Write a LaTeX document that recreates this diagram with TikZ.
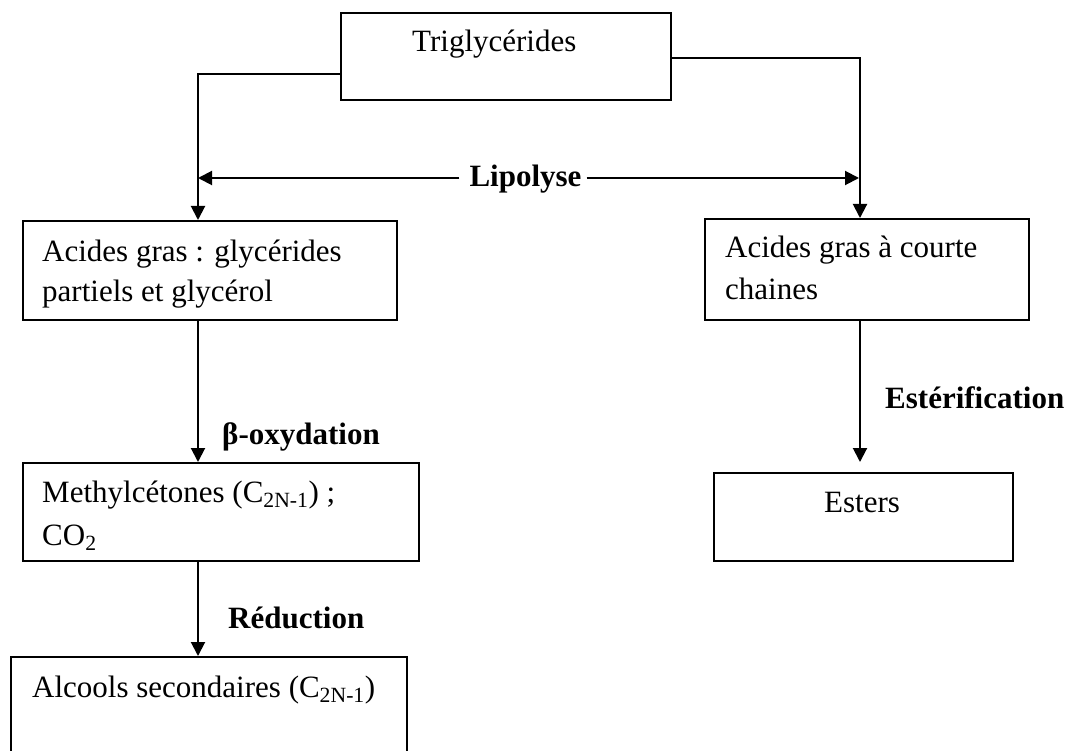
\documentclass[tikz,border=0pt]{standalone}
\usepackage{fontspec}
\setmainfont{Liberation Serif}
\usetikzlibrary{arrows.meta}
\begin{document}
\begin{tikzpicture}[x=1pt,y=-1pt,
  box/.style={draw, line width=2pt, rectangle, inner sep=0pt, anchor=north west},
  txt/.style={anchor=base west, inner sep=0pt, font=\fontsize{31}{42}\selectfont},
  lbl/.style={anchor=base west, inner sep=0pt, font=\fontsize{31}{42}\selectfont\bfseries},
  conn/.style={line width=2pt},
  arr/.style={conn, -{Triangle[length=14pt,width=14pt]}}]
\path[use as bounding box] (0,0) rectangle (1075,751);
% boxes
\node[box, minimum width=330pt, minimum height=87pt] (trig) at (340,12) {};
\node[box, minimum width=374pt, minimum height=99pt] (acides) at (22,220) {};
\node[box, minimum width=324pt, minimum height=101pt] (courte) at (704,218) {};
\node[box, minimum width=396pt, minimum height=98pt] (methyl) at (22,462) {};
\node[box, minimum width=299pt, minimum height=88pt] (esters) at (713,472) {};
\node[box, minimum width=396pt, minimum height=110pt] (alcools) at (10,656) {};
% texts
\node[txt] (ttrig) at (412,52) {Triglycérides};
\node[txt] (tac1) at (42,261) {Acides gras : glycérides};
\node[txt] (tac2) at (42,301) {partiels et glycérol};
\node[txt] (tco1) at (725,257) {Acides gras à courte};
\node[txt] (tco2) at (725,299) {chaines};
\node[txt] (tme1) at (42,502) {Methylcétones (C\textsubscript{2N-1}) ;};
\node[txt] (tme2) at (42,545) {CO\textsubscript{2}};
\node[txt, anchor=base] (tes) at (862,512) {Esters};
\node[txt] (tal) at (32,697) {Alcools secondaires (C\textsubscript{2N-1})};
% labels
\node[lbl, anchor=base] (lip) at (525.5,187) {Lipolyse};
\node[lbl] (beta) at (222,444) {β-oxydation};
\node[lbl] (ester) at (885,408) {Estérification};
\node[lbl] (red) at (228,628) {Réduction};
% connectors
\coordinate (tl) at (198,74);
\coordinate (tr) at (860,58);
\coordinate (ly) at (0,178);
\draw[arr] (trig.west |- tl) -- (tl) -- (acides.north -| tl);
\draw[arr] (trig.east |- tr) -- (tr) -- (courte.north -| tr);
\draw[arr] ([xshift=-10pt]lip.west |- ly) -- (tl |- ly);
\draw[arr] ([xshift=5pt]lip.east |- ly) -- ([xshift=-1pt]tr |- ly);
\draw[arr] (acides.south -| tl) -- (methyl.north -| tl);
\draw[arr] (courte.south -| tr) -- ([yshift=10pt]esters.north -| tr);
\draw[arr] (methyl.south -| tl) -- (alcools.north -| tl);
\end{tikzpicture}
\end{document}
